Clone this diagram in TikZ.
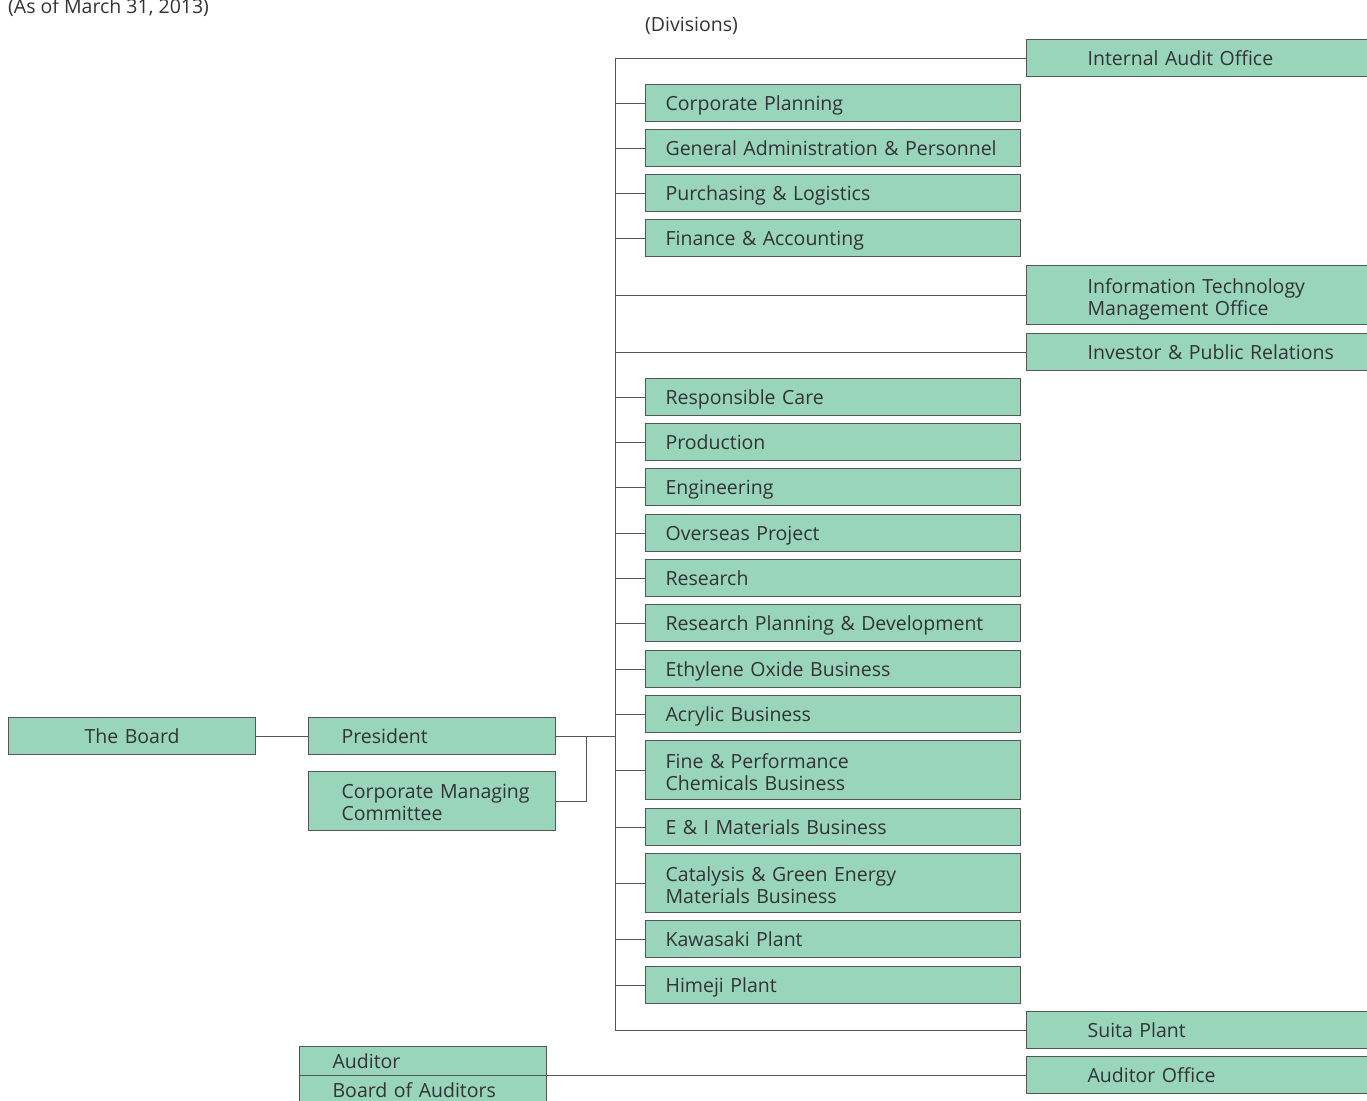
\documentclass[tikz,border=0pt]{standalone}
\usepackage{fontspec}
\setmainfont{Open Sans}
\usepackage{xcolor}
\usetikzlibrary{positioning}
\definecolor{boxgreen}{HTML}{98D5BB}
\definecolor{linegray}{HTML}{555555}
\definecolor{textgray}{HTML}{333333}
\newcommand{\orgfont}{\fontsize{19.5}{22}\selectfont}
\tikzset{
  unit/.style={draw=linegray, line width=1.2pt, fill=boxgreen, text=textgray, font=\orgfont,
    anchor=north west, inner ysep=0pt, text depth=-3pt, align=left},
  division/.style={unit, minimum height=37pt, text width=335pt, inner xsep=20pt},
  office/.style={unit, minimum height=37pt, text width=250pt, inner xsep=61pt},
  head/.style={unit, minimum height=37pt, text width=181pt, inner xsep=33pt},
  twoline/.style={minimum height=59pt, text depth=19pt},
  link/.style={draw=linegray, line width=1pt}
}

\begin{document}
\begin{tikzpicture}[x=1pt,y=-1pt]
        \useasboundingbox (0,0) rectangle (1367,1100);
        \node[anchor=base west, inner sep=0pt, text=textgray, font=\orgfont] (date) at (8,13) {(As of March 31, 2013)};
        \node[anchor=base west, inner sep=0pt, text=textgray, font=\orgfont] (divs) at (645,31) {(Divisions)};

        \node[head, text width=207pt, inner xsep=20pt, align=center] (board) at (8,717) {The Board};
        \node[head] (pres) at (308,717) {President};
        \node[head, twoline] (cmc) at (308,771) {\mbox{Corporate Managing}\\Committee};
        \node[head, minimum height=29pt] (aud) at (299,1046) {Auditor};
        \node[head, minimum height=29pt] (boa) at (299,1075) {Board of Auditors};

        \node[office] (iao) at (1026,39) {Internal Audit Office};
        \node[office, twoline] (ito) at (1026,265) {Information Technology\\Management Office};
        \node[office] (ipr) at (1026,333) {Investor \& Public Relations};
        \node[office] (suita) at (1026,1011) {Suita Plant};
        \node[office] (ao) at (1026,1056) {Auditor Office};

        \node[division] (cp) at (645,84) {Corporate Planning};
        \node[division] (gap) at (645,129) {General Administration \& Personnel};
        \node[division] (pl) at (645,174) {Purchasing \& Logistics};
        \node[division] (fa) at (645,219) {Finance \& Accounting};
        \node[division] (rc) at (645,378) {Responsible Care};
        \node[division] (prod) at (645,423) {Production};
        \node[division] (eng) at (645,468) {Engineering};
        \node[division] (op) at (645,514) {Overseas Project};
        \node[division] (res) at (645,559) {Research};
        \node[division] (rpd) at (645,604) {Research Planning \& Development};
        \node[division] (eo) at (645,650) {Ethylene Oxide Business};
        \node[division] (acr) at (645,695) {Acrylic Business};
        \node[division, twoline] (fpc) at (645,740) {Fine \& Performance\\Chemicals Business};
        \node[division] (eim) at (645,808) {E \& I Materials Business};
        \node[division, twoline] (cge) at (645,853) {Catalysis \& Green Energy\\Materials Business};
        \node[division] (kaw) at (645,920) {Kawasaki Plant};
        \node[division] (him) at (645,966) {Himeji Plant};

        \coordinate (trunk) at (615,0);
        \coordinate (top) at (iao.west -| trunk);
        \coordinate (bot) at (suita.west -| trunk);
        \draw[link] (iao.west) -- (top) -- (bot) -- (suita.west);
        \draw[link] (board) -- (pres);
        \draw[link] (pres.east) -- (pres.east -| trunk);
        \draw[link] (cmc.east) -- ++(30,0) |- (pres.east);
        \draw[link] (ito.west) -- (ito.west -| trunk);
        \draw[link] (ipr.west) -- (ipr.west -| trunk);
        \draw[link] (ao.west) -- (ao.west -| aud.east);
        \foreach \d in {cp,gap,pl,fa,rc,prod,eng,op,res,rpd,eo,acr,fpc,eim,cge,kaw,him}
          \draw[link] (\d.west) -- (\d.west -| trunk);
    \end{tikzpicture}
\end{document}
